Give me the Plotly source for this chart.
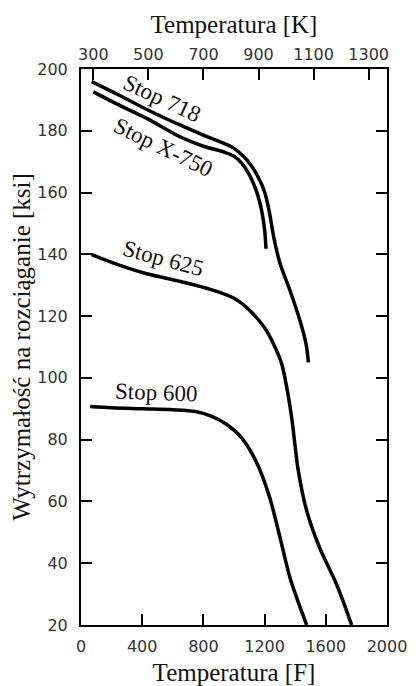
import plotly.graph_objects as go

# Tensile strength vs temperature for four nickel alloys
temp_718 = [70, 250, 430, 650, 800, 930, 1000, 1060, 1110, 1160, 1200, 1230, 1260, 1300, 1366, 1431, 1471, 1486]
ksi_718 = [195.9, 191.5, 186.9, 181.8, 178.6, 176.0, 174.3, 171.8, 168.9, 164.8, 160.2, 154.0, 145.5, 137.2, 128.3, 118.6, 111.0, 105.0]

temp_x750 = [80, 250, 430, 650, 800, 930, 1000, 1050, 1100, 1150, 1180, 1200, 1209]
ksi_x750 = [192.6, 188.3, 184.0, 178.0, 175.0, 173.2, 171.8, 169.5, 165.8, 160.0, 154.3, 148.0, 141.8]

temp_625 = [70, 250, 430, 650, 850, 1000, 1100, 1200, 1260, 1312, 1350, 1380, 1420, 1475, 1560, 1670, 1769]
ksi_625 = [139.9, 136.5, 133.7, 131.2, 128.6, 125.8, 122.0, 116.2, 110.8, 104.5, 95.5, 86.0, 70.0, 57.0, 45.0, 33.2, 20.0]

temp_600 = [60, 200, 400, 600, 750, 850, 950, 1050, 1150, 1230, 1300, 1366, 1420, 1475]
ksi_600 = [90.7, 90.3, 90.0, 89.7, 89.1, 87.6, 85.0, 80.6, 72.4, 61.8, 48.5, 35.3, 27.4, 20.0]

# Curve labels: text, anchor (F, ksi), rotation
label_text = ["Stop 718", "Stop X-750", "Stop 625", "Stop 600"]
label_f = [529, 538, 538, 488]
label_ksi = [190.6, 174.7, 138.7, 95.3]
label_angle = [25, 26, 15, 2]

f_ticks = [0, 400, 800, 1200, 1600, 2000]
k_ticks = [300, 500, 700, 900, 1100, 1300]
ksi_ticks = list(range(20, 201, 20))

F_RANGE = [0, 2000]


def f_to_k(f):
    return (f - 32) / 1.8 + 273.15


K_RANGE = [f_to_k(F_RANGE[0]), f_to_k(F_RANGE[1])]

title_font = dict(family="Liberation Serif", size=25, color="#111")
label_font = dict(family="Liberation Serif", size=23, color="#111")
tickfont = dict(family="DejaVu Sans", size=16, color="#333")

line_style = dict(color="black", width=3.5, shape="spline", smoothing=0.9)

fig = go.Figure()
for xs, ys in [(temp_x750, ksi_x750), (temp_625, ksi_625), (temp_600, ksi_600)]:
    fig.add_trace(go.Scatter(x=xs, y=ys, mode="lines", line=line_style,
                             showlegend=False, hoverinfo="skip"))

# Stop 718 is drawn against the Kelvin axis so the top scale is rendered
fig.add_trace(go.Scatter(x=[f_to_k(f) for f in temp_718], y=ksi_718, mode="lines",
                         xaxis="x2", yaxis="y", line=line_style,
                         showlegend=False, hoverinfo="skip"))

for t, fx, ky, ang in zip(label_text, label_f, label_ksi, label_angle):
    fig.add_annotation(x=fx, y=ky, xref="x", yref="y", text=t, showarrow=False,
                       textangle=ang, font=label_font)

axis_common = dict(
    ticks="inside", ticklen=11, tickwidth=1.5, tickcolor="black",
    showline=True, linewidth=2, linecolor="black",
    showgrid=False, zeroline=False, tickfont=tickfont, automargin=False,
)

fig.update_layout(
    width=416, height=686,
    margin=dict(l=81, r=29, t=69, b=61),
    paper_bgcolor="white", plot_bgcolor="white",
    xaxis=dict(range=F_RANGE, tickvals=f_ticks, ticklabelstandoff=6,
               title=dict(text="Temperatura [F]", font=title_font, standoff=12),
               **axis_common),
    xaxis2=dict(range=K_RANGE, tickvals=k_ticks, overlaying="x", side="top",
                anchor="y", ticklabelstandoff=1,
                title=dict(text="Temperatura [K]", font=title_font, standoff=4),
                **axis_common),
    yaxis=dict(range=[20, 200], tickvals=ksi_ticks, mirror="ticks",
               ticklabelstandoff=8,
               title=dict(text="Wytrzymałość na rozciąganie [ksi]", font=title_font, standoff=0),
               **axis_common),
)

fig.write_html("out.html")
